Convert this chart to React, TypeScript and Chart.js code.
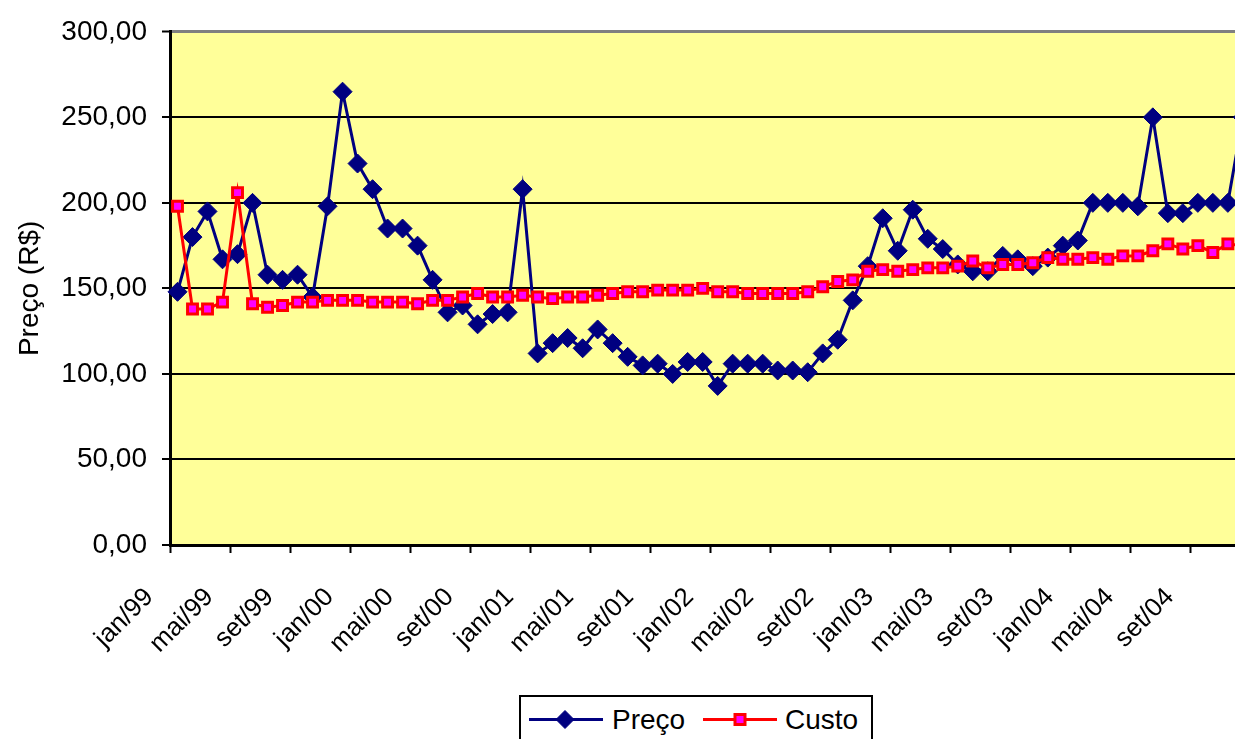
import React, { useEffect, useRef } from 'react';
import { Chart, registerables } from 'chart.js';

Chart.register(...registerables);

const categories = [
  'jan/99', 'fev/99', 'mar/99', 'abr/99', 'mai/99', 'jun/99', 'jul/99', 'ago/99', 'set/99', 'out/99', 'nov/99', 'dez/99',
  'jan/00', 'fev/00', 'mar/00', 'abr/00', 'mai/00', 'jun/00', 'jul/00', 'ago/00', 'set/00', 'out/00', 'nov/00', 'dez/00',
  'jan/01', 'fev/01', 'mar/01', 'abr/01', 'mai/01', 'jun/01', 'jul/01', 'ago/01', 'set/01', 'out/01', 'nov/01', 'dez/01',
  'jan/02', 'fev/02', 'mar/02', 'abr/02', 'mai/02', 'jun/02', 'jul/02', 'ago/02', 'set/02', 'out/02', 'nov/02', 'dez/02',
  'jan/03', 'fev/03', 'mar/03', 'abr/03', 'mai/03', 'jun/03', 'jul/03', 'ago/03', 'set/03', 'out/03', 'nov/03', 'dez/03',
  'jan/04', 'fev/04', 'mar/04', 'abr/04', 'mai/04', 'jun/04', 'jul/04', 'ago/04', 'set/04', 'out/04', 'nov/04', 'dez/04',
];

const precoValues = [
  148, 180, 195, 167, 170, 200, 158, 155, 158, 145, 198, 265,
  223, 208, 185, 185, 175, 155, 136, 140, 129, 135, 136, 208,
  112, 118, 121, 115, 126, 118, 110, 105, 106, 100, 107, 107,
  93, 106, 106, 106, 102, 102, 101, 112, 120, 143, 163, 191,
  172, 196, 179, 173, 164, 160, 160, 169, 167, 163, 168, 175,
  178, 200, 200, 200, 198, 250, 194, 194, 200, 200, 200, 250,
];

const custoValues = [
  198, 138, 138, 142, 206, 141, 139, 140, 142, 142, 143, 143,
  143, 142, 142, 142, 141, 143, 143, 145, 147, 145, 145, 146,
  145, 144, 145, 145, 146, 147, 148, 148, 149, 149, 149, 150,
  148, 148, 147, 147, 147, 147, 148, 151, 154, 155, 160, 161,
  160, 161, 162, 162, 163, 166, 162, 164, 164, 165, 168, 167,
  167, 168, 167, 169, 169, 172, 176, 173, 175, 171, 176, 175,
];

const seriesNames = ['Preço', 'Custo'];
const yAxisTitle = 'Preço (R$)';
const yMin = 0;
const yMax = 300;
const yStep = 50;
const labelEvery = 4;

const FONT = 'Liberation Sans, Arial, sans-serif';
const CANVAS_W = 1294;
const CANVAS_H = 739;

export default function App() {
  const ref = useRef<HTMLCanvasElement>(null);

  useEffect(() => {
    const canvas = ref.current;
    if (!canvas) return;
    const bgPlugin = {
      id: 'plotBg',
      beforeDraw(chart: any) {
        const { ctx, chartArea } = chart;
        if (!chartArea) return;
        ctx.save();
        ctx.fillStyle = '#FFFF99';
        ctx.fillRect(chartArea.left, chartArea.top, chartArea.right - chartArea.left, chartArea.bottom - chartArea.top);
        ctx.restore();
      },
    };
    const chart = new Chart(canvas, {
      type: 'line',
      data: {
        labels: categories,
        datasets: [
          {
            label: seriesNames[0],
            data: precoValues,
            borderColor: '#000080',
            backgroundColor: '#000080',
            borderWidth: 3,
            pointStyle: 'rectRot',
            pointRadius: 9.5,
            pointBackgroundColor: '#000080',
            pointBorderColor: '#000080',
            pointBorderWidth: 1,
            tension: 0,
            order: 2,
          },
          {
            label: seriesNames[1],
            data: custoValues,
            borderColor: '#FF0000',
            backgroundColor: '#FF00FF',
            borderWidth: 3,
            pointStyle: 'rect',
            pointRadius: 7,
            pointBackgroundColor: '#FF00FF',
            pointBorderColor: '#FF0000',
            pointBorderWidth: 3,
            tension: 0,
            order: 1,
          },
        ],
      },
      options: {
        responsive: false,
        animation: false,
        layout: { padding: { top: 29, right: 12, left: 0, bottom: 0 } },
        plugins: { legend: { display: false }, tooltip: { enabled: false } },
        scales: {
          x: {
            type: 'category',
            offset: true,
            grid: {
              offset: true,
              drawOnChartArea: false,
              tickLength: 8,
              tickWidth: 2,
              tickColor: (c: any) => (c.index !== undefined && c.index % labelEvery === 0 ? '#000' : 'rgba(0,0,0,0)'),
            },
            border: { color: '#000', width: 3 },
            ticks: {
              autoSkip: false,
              maxRotation: 45,
              minRotation: 45,
              labelOffset: -28,
              padding: 29,
              color: '#000',
              font: { family: FONT, size: 26 },
              callback: (_v: any, i: number) => (i % labelEvery === 0 ? categories[i] : ''),
            },
            afterFit: (s: any) => {
              s.height = 194;
            },
          },
          y: {
            min: yMin,
            max: yMax,
            ticks: {
              stepSize: yStep,
              padding: 15,
              color: '#000',
              font: { family: FONT, size: 28 },
              callback: (v: any) => Number(v).toFixed(2).replace('.', ','),
            },
            grid: {
              color: (c: any) => (c.tick && c.tick.value === yMax ? '#808080' : '#000'),
              lineWidth: (c: any) => (c.tick && c.tick.value === yMax ? 3 : 2),
              tickLength: 8,
              tickColor: '#000',
              tickWidth: 2,
            },
            border: { color: '#000', width: 3 },
            title: {
              display: true,
              text: yAxisTitle,
              color: '#000',
              font: { family: FONT, size: 28 },
              padding: { top: 13, bottom: 0 },
            },
            afterFit: (s: any) => {
              s.width = 170;
            },
          },
        },
      },
      plugins: [bgPlugin],
    } as any);
    return () => chart.destroy();
  }, []);

  const textStyle: React.CSSProperties = {
    position: 'absolute',
    top: 9,
    fontFamily: FONT,
    fontSize: 28,
    lineHeight: '28px',
    color: '#000',
    whiteSpace: 'nowrap',
  };

  return (
    <div
      style={{
        position: 'fixed',
        left: 0,
        top: 0,
        width: 1235,
        height: 739,
        overflow: 'hidden',
        background: '#fff',
      }}
    >
      <canvas
        ref={ref}
        width={CANVAS_W}
        height={CANVAS_H}
        style={{ position: 'absolute', left: 0, top: 0, width: CANVAS_W, height: CANVAS_H }}
      />
      <div
        style={{
          position: 'absolute',
          left: 519,
          top: 695,
          width: 354,
          height: 60,
          boxSizing: 'border-box',
          border: '2px solid #000',
          background: '#fff',
        }}
      >
        <svg width={350} height={56} style={{ position: 'absolute', left: 0, top: 0 }}>
          <line x1={8} y1={22.5} x2={82} y2={22.5} stroke="#000080" strokeWidth={3} />
          <polygon points="44,13.5 53,22.5 44,31.5 35,22.5" fill="#000080" stroke="#000080" strokeWidth={1} />
          <line x1={182} y1={22.5} x2={256} y2={22.5} stroke="#FF0000" strokeWidth={3} />
          <rect x={214} y={17.5} width={10} height={10} fill="#FF00FF" stroke="#FF0000" strokeWidth={3} />
        </svg>
        <span style={{ ...textStyle, left: 91 }}>{seriesNames[0]}</span>
        <span style={{ ...textStyle, left: 264 }}>{seriesNames[1]}</span>
      </div>
    </div>
  );
}
